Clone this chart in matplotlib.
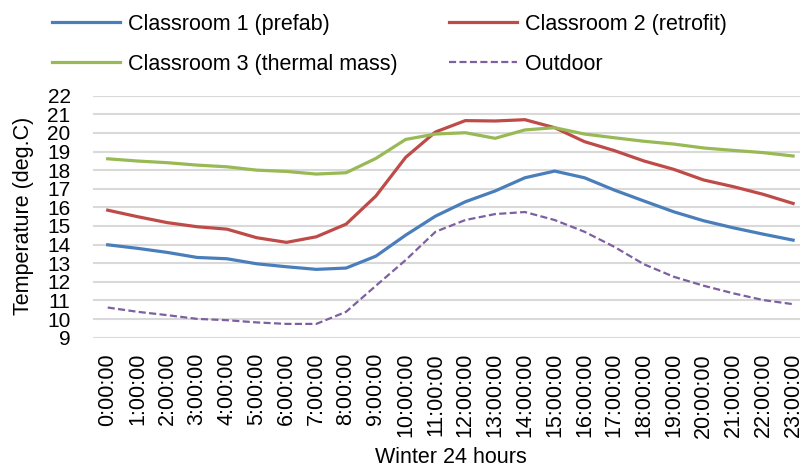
import matplotlib
matplotlib.use("Agg")
import matplotlib.pyplot as plt
import numpy as np

plt.rcParams["font.family"] = ["Liberation Sans", "DejaVu Sans"]

# ── data ─────────────────────────────────────────────────────────────────────
hours = [f"{h}:00:00" for h in range(24)]

room1 = [13.99, 13.80, 13.58, 13.31, 13.24, 12.97, 12.81, 12.67, 12.74, 13.38,
         14.51, 15.53, 16.30, 16.88, 17.59, 17.95, 17.59, 16.93, 16.34, 15.76,
         15.28, 14.90, 14.56, 14.24]
room2 = [15.85, 15.50, 15.18, 14.96, 14.83, 14.37, 14.12, 14.42, 15.10, 16.61,
         18.69, 20.05, 20.66, 20.64, 20.71, 20.28, 19.53, 19.05, 18.49, 18.04,
         17.47, 17.11, 16.70, 16.21]
room3 = [18.61, 18.49, 18.40, 18.27, 18.18, 18.00, 17.93, 17.79, 17.86, 18.63,
         19.65, 19.94, 20.01, 19.71, 20.16, 20.28, 19.94, 19.74, 19.55, 19.40,
         19.19, 19.06, 18.94, 18.76]
outdoor = [10.62, 10.39, 10.21, 10.01, 9.94, 9.82, 9.74, 9.74, 10.39, 11.79,
           13.17, 14.69, 15.32, 15.64, 15.75, 15.32, 14.69, 13.88, 12.94, 12.27,
           11.79, 11.38, 11.02, 10.80]

# ── plot ─────────────────────────────────────────────────────────────────────
fig = plt.figure(figsize=(8, 4.69), dpi=100)
ax = fig.add_axes([0.116, 0.280, 0.894, 0.516])

x = np.arange(len(hours))
l1, = ax.plot(x, room1, color="#4A7EBB", lw=2.3, label="Classroom 1 (prefab)")
l2, = ax.plot(x, room2, color="#BE4B48", lw=2.3, label="Classroom 2 (retrofit)")
l3, = ax.plot(x, room3, color="#98B954", lw=2.3, label="Classroom 3 (thermal mass)")
l4, = ax.plot(x, outdoor, color="#7D60A0", lw=1.6, ls=(0, (3.2, 1.5)), label="Outdoor")

ax.set_xlim(-0.5, 23.5)
ax.set_ylim(9, 22)
ax.set_yticks(range(9, 23))
ax.set_xticks(x)
ax.set_xticklabels(hours, rotation=90, fontsize=15.5)
ax.tick_params(axis="y", labelsize=15, length=0, pad=16)
ax.tick_params(axis="x", length=0, pad=11)
ax.yaxis.grid(True, color="#D9D9D9", lw=1.5)
ax.set_axisbelow(True)
for s in ax.spines.values():
    s.set_visible(False)

fig.text(0.03, 0.539, "Temperature (deg.C)", rotation=90,
         ha="center", va="center", fontsize=15.5)
fig.text(0.564, 1 - 457 / 469, "Winter 24 hours",
         ha="center", va="center", fontsize=15.5)

# legend is filled column-wise, so order the handles to read row by row
fig.legend([l1, l3, l2, l4], [l.get_label() for l in (l1, l3, l2, l4)],
           loc="upper left", bbox_to_anchor=(0.065, 0.971), ncol=2,
           frameon=False, fontsize=15.5, borderpad=0, borderaxespad=0,
           handlelength=3.16, handletextpad=0.37, columnspacing=2.37,
           labelspacing=0.9)

fig.savefig("out.png", dpi=100)
